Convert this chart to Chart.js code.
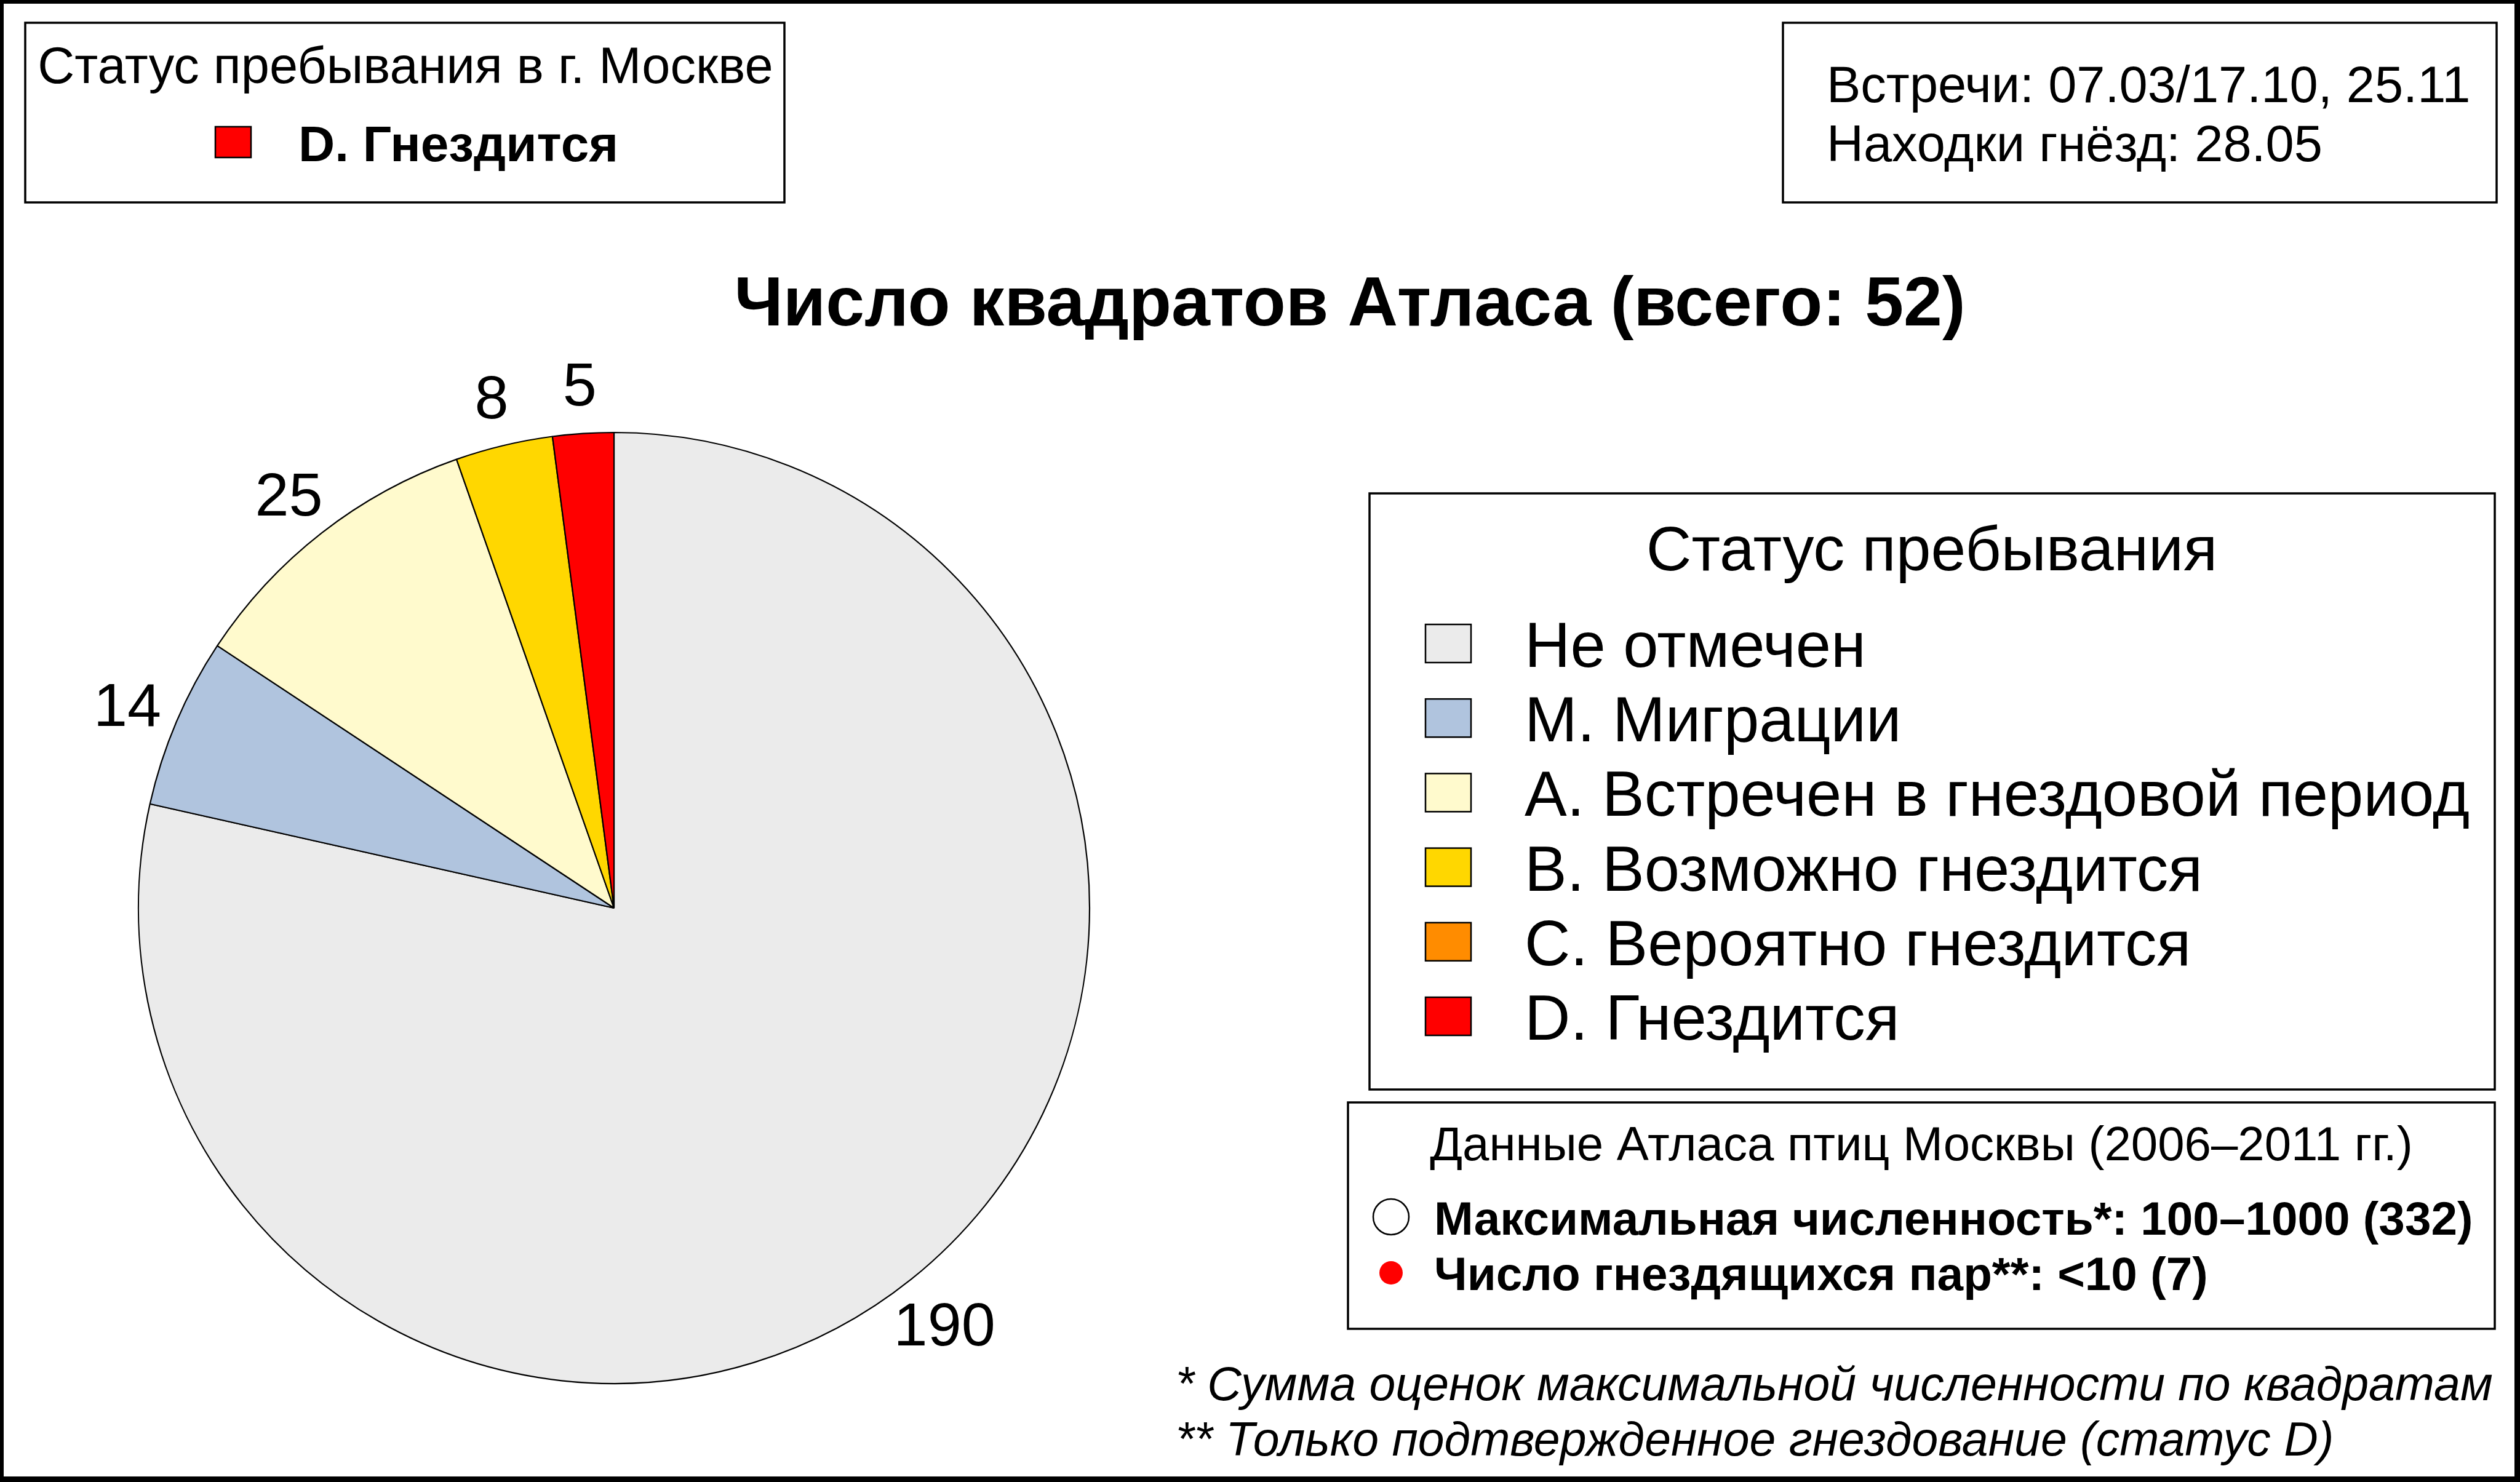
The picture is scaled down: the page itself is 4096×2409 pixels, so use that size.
<!DOCTYPE html>
<html>
<head>
<meta charset="utf-8">
<script src="https://cdn.jsdelivr.net/npm/chart.js@4/dist/chart.umd.min.js"></script>
<style>
html,body{margin:0;padding:0;background:#fff;overflow:hidden;}
canvas{display:block;}
</style>
</head>
<body>
<canvas id="c" width="4096" height="2409"></canvas>
<script>
// ---- data ----
const categories = ['Не отмечен', 'M. Миграции', 'A. Встречен в гнездовой период', 'B. Возможно гнездится', 'C. Вероятно гнездится', 'D. Гнездится'];
const squareCounts = [190, 14, 25, 8, 0, 5];
const sliceColors = ['#EBEBEB', '#B0C4DE', '#FFFACD', '#FFD700', '#FF8C00', '#FF0000'];
const currentStatusIndex = 5;
const chartTitle = 'Число квадратов Атласа (всего: 52)';
const statusBoxTitle = 'Статус пребывания в г. Москве';
const datesLines = ['Встречи: 07.03/17.10, 25.11', 'Находки гнёзд: 28.05'];
const legendTitle = 'Статус пребывания';
const atlasTitle = 'Данные Атласа птиц Москвы (2006–2011 гг.)';
const atlasLines = ['Максимальная численность*: 100–1000 (332)', 'Число гнездящихся пар**: <10 (7)'];
const footnotes = ['* Сумма оценок максимальной численности по квадратам', '** Только подтвержденное гнездование (статус D)'];

const FONT = '"Liberation Sans", Arial, Helvetica, sans-serif';
const W = 4096, H = 2409;

function txt(ctx, s, x, y, size, opts) {
  opts = opts || {};
  ctx.save();
  ctx.font = (opts.style || '') + ' ' + (opts.weight || 'normal') + ' ' + size + 'px ' + FONT;
  ctx.fillStyle = '#000';
  ctx.textAlign = opts.align || 'left';
  ctx.textBaseline = opts.baseline || 'alphabetic';
  ctx.fillText(s, x, y);
  ctx.restore();
}
function box(ctx, x1, y1, x2, y2, lw) {
  ctx.save();
  ctx.strokeStyle = '#000';
  ctx.lineWidth = lw;
  ctx.strokeRect(x1, y1, x2 - x1, y2 - y1);
  ctx.restore();
}
function swatch(ctx, x, y, w, h, color) {
  ctx.save();
  ctx.fillStyle = color;
  ctx.fillRect(x, y, w, h);
  ctx.strokeStyle = '#000';
  ctx.lineWidth = 2.5;
  ctx.strokeRect(x, y, w, h);
  ctx.restore();
}

const decorPlugin = {
  id: 'decor',
  beforeDraw(chart) {
    const ctx = chart.ctx;
    ctx.save();
    ctx.fillStyle = '#fff';
    ctx.fillRect(0, 0, W, H);
    ctx.restore();
  },
  afterDraw(chart) {
    const ctx = chart.ctx;
    // outer frame
    ctx.save();
    ctx.fillStyle = '#000';
    ctx.fillRect(0, 0, W, 6);
    ctx.fillRect(0, 0, 6, H);
    ctx.fillRect(W - 9, 0, 9, H);
    ctx.fillRect(0, H - 9, W, 9);
    ctx.restore();

    // slice value labels, positioned from the arc geometry
    const meta = chart.getDatasetMeta(0);
    meta.data.forEach((arc, i) => {
      const v = squareCounts[i];
      if (!v) return;
      const p = arc.getProps(['x', 'y', 'startAngle', 'endAngle', 'outerRadius'], true);
      const mid = (p.startAngle + p.endAngle) / 2;
      const r = p.outerRadius * 1.112;
      txt(ctx, String(v), p.x + Math.cos(mid) * r, p.y + Math.sin(mid) * r + 13, 99, {align: 'center', baseline: 'middle'});
    });

    // top-left status box
    box(ctx, 41, 37, 1275, 329, 3.5);
    txt(ctx, statusBoxTitle, 659, 135, 83, {align: 'center'});
    swatch(ctx, 350, 206, 58, 50, sliceColors[currentStatusIndex]);
    txt(ctx, categories[currentStatusIndex], 485, 262, 82, {weight: 'bold'});

    // top-right dates box
    box(ctx, 2898, 37, 4058, 329, 3.5);
    txt(ctx, datesLines[0], 2969, 166, 83);
    txt(ctx, datesLines[1], 2969, 262, 83);

    // main title
    txt(ctx, chartTitle, 2194, 529, 113, {weight: 'bold', align: 'center'});

    // legend box
    box(ctx, 2226, 802, 4055, 1771, 3.5);
    txt(ctx, legendTitle, 3140, 927, 102, {align: 'center'});
    categories.forEach((c, i) => {
      const base = 1084 + i * 121.2;
      swatch(ctx, 2317, base - 69, 74, 62, sliceColors[i]);
      txt(ctx, c, 2478, base, 103);
    });

    // atlas data box
    box(ctx, 2191, 1792, 4055, 2160, 3.5);
    txt(ctx, atlasTitle, 3123, 1886, 78, {align: 'center'});
    ctx.save();
    ctx.beginPath();
    ctx.arc(2261, 1978, 29, 0, Math.PI * 2);
    ctx.fillStyle = '#fff';
    ctx.fill();
    ctx.lineWidth = 2.5;
    ctx.strokeStyle = '#000';
    ctx.stroke();
    ctx.beginPath();
    ctx.arc(2261, 2069, 19, 0, Math.PI * 2);
    ctx.fillStyle = '#FF0000';
    ctx.fill();
    ctx.restore();
    txt(ctx, atlasLines[0], 2331, 2007, 76.5, {weight: 'bold'});
    txt(ctx, atlasLines[1], 2331, 2097, 76.5, {weight: 'bold'});

    // footnotes
    txt(ctx, footnotes[0], 1911, 2276, 77, {style: 'italic'});
    txt(ctx, footnotes[1], 1911, 2366, 77, {style: 'italic'});
  }
};

new Chart(document.getElementById('c'), {
  type: 'pie',
  data: {
    labels: categories,
    datasets: [{
      data: squareCounts,
      backgroundColor: sliceColors,
      borderColor: '#000',
      borderWidth: 2.2,
      radius: 773
    }]
  },
  options: {
    responsive: false,
    devicePixelRatio: 1,
    animation: false,
    layout: {padding: {left: 0, right: W - 2 * 998, top: 2 * 1476 - H, bottom: 0}},
    plugins: {legend: {display: false}, title: {display: false}, tooltip: {enabled: false}}
  },
  plugins: [decorPlugin]
});
</script>
</body>
</html>
